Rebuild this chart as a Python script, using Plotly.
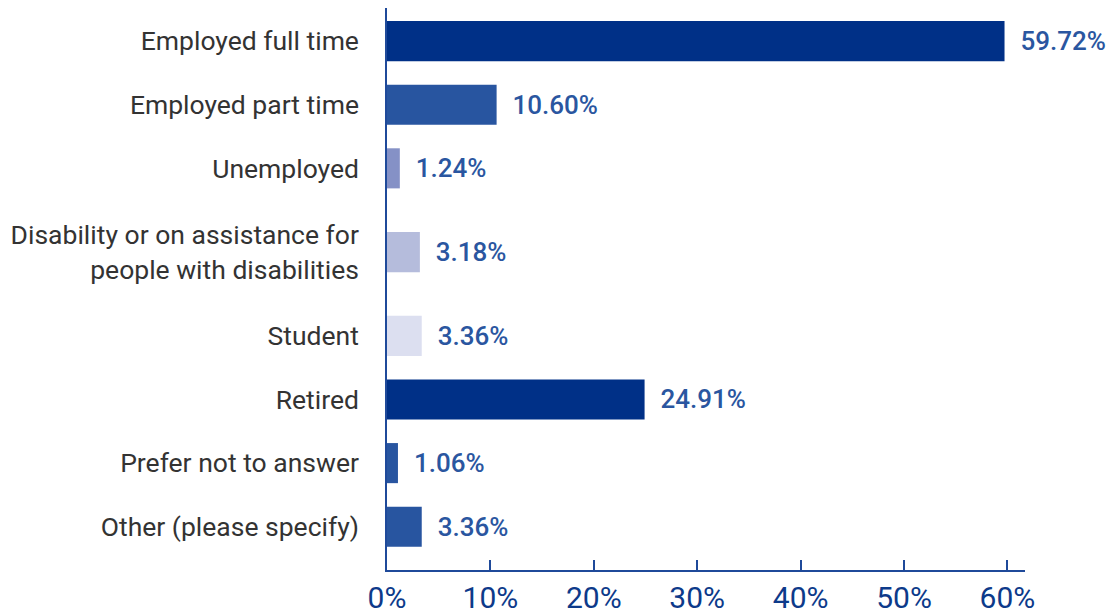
import plotly.graph_objects as go

categories = [
    "Employed full time",
    "Employed part time",
    "Unemployed",
    "Disability or on assistance for<br>people with disabilities",
    "Student",
    "Retired",
    "Prefer not to answer",
    "Other (please specify)",
]
values = [59.72, 10.60, 1.24, 3.18, 3.36, 24.91, 1.06, 3.36]
bar_colors = ["#003087", "#2855a0", "#8591c6", "#b5bcdc", "#dcdff0", "#003087", "#2855a0", "#2855a0"]
x_ticks = [0, 10, 20, 30, 40, 50, 60]
x_tick_labels = ["0%", "10%", "20%", "30%", "40%", "50%", "60%"]

# rows with wrapped (two-line) labels get extra vertical room
row_heights = [1 + 0.633 * c.count("<br>") for c in categories]
row_pos = []
acc = 0.0
for h in row_heights:
    row_pos.append(acc + h / 2)
    acc += h
total = acc

fig = go.Figure(
    go.Bar(
        y=row_pos,
        x=values,
        orientation="h",
        marker=dict(color=bar_colors, line=dict(width=0)),
        width=0.63,
        text=[f"{v:.2f}%" for v in values],
        texttemplate="  %{text}",
        textposition="outside",
        constraintext="none",
        textfont=dict(family="Roboto", size=26, color="#2a56a0", weight=500),
        cliponaxis=False,
    )
)

fig.update_layout(
    width=1114,
    height=615,
    margin=dict(l=379, r=97, t=0, b=53),
    plot_bgcolor="white",
    paper_bgcolor="white",
    showlegend=False,
    font=dict(family="Roboto"),
)

fig.update_yaxes(
    range=[total + 0.18, -0.02],
    tickvals=row_pos,
    ticktext=categories,
    automargin=False,
    showline=True,
    linecolor="#1f4a9a",
    linewidth=1.5,
    showgrid=False,
    zeroline=False,
    ticks="",
    ticklabelstandoff=21,
    tickfont=dict(family="Roboto", size=26.5, color="#333333"),
)

fig.update_xaxes(
    range=[0, 61.7],
    automargin=False,
    tickvals=x_ticks,
    ticktext=x_tick_labels,
    showline=True,
    linecolor="#1f4a9a",
    linewidth=1.5,
    showgrid=False,
    zeroline=False,
    ticks="inside",
    ticklen=10,
    tickcolor="#1f4a9a",
    tickwidth=1.5,
    ticklabelstandoff=0,
    tickfont=dict(family="Roboto", size=30, color="#0d3a8a"),
)

fig.write_html("out.html")
